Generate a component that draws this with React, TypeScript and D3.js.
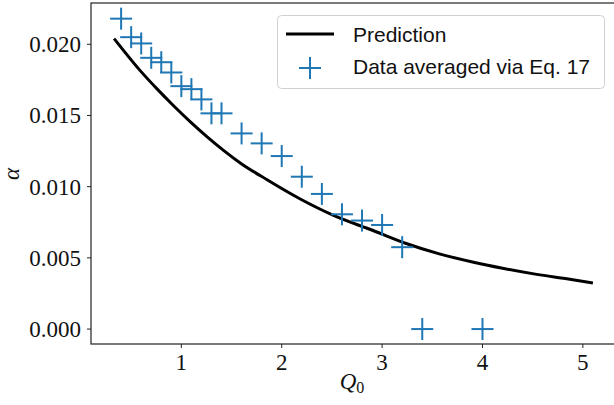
import React from 'react';
import * as d3 from 'd3';

// data
const dataQ = [0.4, 0.5, 0.6, 0.7, 0.8, 0.9, 1.0, 1.1, 1.2, 1.3, 1.4, 1.6, 1.8, 2.0, 2.2, 2.4, 2.6, 2.8, 3.0, 3.2, 3.4, 4.0];
const dataAlpha = [0.0218, 0.0205, 0.02006, 0.01905, 0.01874, 0.01802, 0.01706, 0.01685, 0.01613, 0.01515, 0.01515, 0.01374, 0.01304, 0.01215, 0.0107, 0.00949, 0.00806, 0.00762, 0.00731, 0.00575, 0.0, 0.0];

const predQ = [0.33, 0.59, 0.76, 0.92, 1.09, 1.26, 1.42, 1.59, 1.85, 2.18, 2.51, 2.91, 3.24, 3.57, 3.9, 4.2, 4.54, 4.87, 5.1];
const predAlpha = [0.0204, 0.01815, 0.01685, 0.0157, 0.01455, 0.01348, 0.01255, 0.01165, 0.0105, 0.00915, 0.008, 0.00692, 0.00601, 0.00528, 0.00471, 0.00427, 0.00384, 0.0035, 0.00323];

const xTicks = [1, 2, 3, 4, 5];
const yTicks = [0, 0.005, 0.01, 0.015, 0.02];

const W = 614, H = 405;
const plot = { left: 91, right: 617, top: 3, bottom: 344 };
const blue = '#1f77b4';
const serif = '"Liberation Serif", "DejaVu Serif", serif';
const sans = '"Liberation Sans", Arial, sans-serif';

export default function App() {
    const x = d3.scaleLinear().domain([0.1, 5.34]).range([plot.left, plot.right]);
    const y = d3.scaleLinear().domain([-0.00105, 0.0229]).range([plot.bottom, plot.top]);

    const line = d3.line<number>()
        .x((d, i) => x(predQ[i]))
        .y(d => y(d))
        .curve(d3.curveMonotoneX);

    const fmt = d3.format('.3f');
    const arm = 11;

    const plus = (cx: number, cy: number, key: any, a = arm) => (
        <g key={key} stroke={blue} strokeWidth={2}>
            <line x1={cx - a} x2={cx + a} y1={cy} y2={cy} />
            <line x1={cx} x2={cx} y1={cy - a} y2={cy + a} />
        </g>
    );

    return (
        <div style={{ position: 'fixed', left: 0, top: 0 }}>
            <svg width={W} height={H} style={{ display: 'block', background: 'white' }}>
                <defs>
                    <clipPath id="clip">
                        <rect x={plot.left} y={plot.top} width={plot.right - plot.left} height={plot.bottom - plot.top} />
                    </clipPath>
                </defs>

                <g clipPath="url(#clip)">
                    <path d={line(predAlpha) || ''} fill="none" stroke="black" strokeWidth={3} />
                    {dataQ.map((q, i) => plus(x(q), y(dataAlpha[i]), i))}
                </g>

                {/* frame */}
                <rect x={plot.left} y={plot.top} width={plot.right - plot.left} height={plot.bottom - plot.top}
                    fill="none" stroke="#222" strokeWidth={1.2} />

                {/* x axis */}
                {xTicks.map(t => (
                    <g key={t} transform={`translate(${x(t)},${plot.bottom})`}>
                        <line y1={0} y2={4} stroke="#222" strokeWidth={1} />
                        <text y={26} textAnchor="middle" fontFamily={serif} fontSize={23} fill="#111">{t}</text>
                    </g>
                ))}
                <text x={352} y={389} textAnchor="middle" fontFamily={serif} fontSize={23} fill="#111">
                    <tspan fontStyle="italic">Q</tspan>
                    <tspan fontSize={16} dy={4}>0</tspan>
                </text>

                {/* y axis */}
                {yTicks.map(t => (
                    <g key={t} transform={`translate(${plot.left},${y(t)})`}>
                        <line x1={-4} x2={0} stroke="#222" strokeWidth={1} />
                        <text x={-10} y={8} textAnchor="end" fontFamily={serif} fontSize={23} fill="#111">{fmt(t)}</text>
                    </g>
                ))}
                <text transform="translate(19,174) rotate(-90)" textAnchor="middle" fontFamily={serif}
                    fontStyle="italic" fontSize={23} fill="#111">α</text>

                {/* legend */}
                <g>
                    <rect x={277.5} y={15.5} width={327} height={73} rx={4} fill="white" fillOpacity={0.8}
                        stroke="#d0d0d0" strokeWidth={1} />
                    <line x1={286} x2={334} y1={34} y2={34} stroke="black" strokeWidth={3} />
                    <text x={353} y={42} fontFamily={sans} fontSize={21} fill="#111">Prediction</text>
                    {plus(310, 68, 'leg')}
                    <text x={353} y={74} fontFamily={sans} fontSize={21} fill="#111">Data averaged via Eq. 17</text>
                </g>
            </svg>
        </div>
    );
}
